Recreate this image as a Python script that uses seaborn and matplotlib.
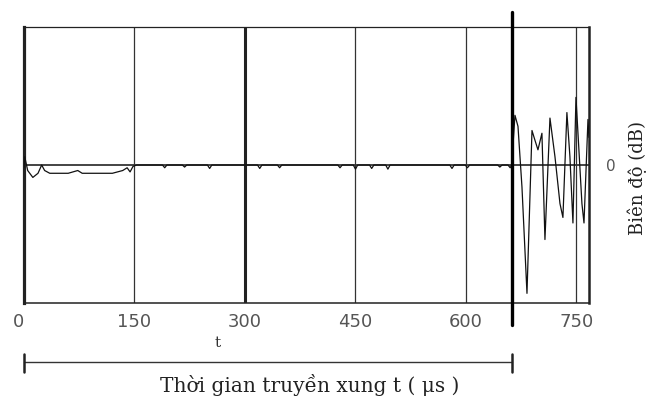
import numpy as np
import pandas as pd
import matplotlib
matplotlib.use("Agg")
import matplotlib.pyplot as plt
import matplotlib.transforms as mtransforms
import seaborn as sns

# ---- data ----
# time (microseconds) and amplitude (relative, 0 = baseline)
t_early = [0, 1, 5, 12, 19, 24, 28, 35, 60, 73, 79, 100, 120, 134, 140, 144, 148, 153]
a_early = [-0.02, 0.06, -0.04, -0.09, -0.06, 0.0, -0.04, -0.06, -0.06, -0.04, -0.06,
           -0.06, -0.06, -0.04, -0.02, -0.05, -0.01, 0.0]

t_mid = [160, 188, 191, 194, 215, 218, 221, 249, 252, 255, 317, 320, 323, 344, 347, 350,
         426, 429, 432, 447, 450, 453, 469, 472, 475, 491, 494, 497, 578, 581, 584,
         599, 602, 605, 643, 646, 649, 657, 660, 662]
a_mid = [0.0, 0.0, -0.02, 0.0, 0.0, -0.015, 0.0, 0.0, -0.025, 0.0, 0.0, -0.025, 0.0, 0.0, -0.02, 0.0,
         0.0, -0.02, 0.0, 0.0, -0.03, 0.0, 0.0, -0.025, 0.0, 0.0, -0.03, 0.0, 0.0, -0.025, 0.0,
         0.0, -0.02, 0.0, 0.0, -0.015, 0.0, 0.0, -0.02, 0.0]

t_burst = [666.5, 670.6, 676, 682.8, 689.6, 693.6, 697.7, 703.1, 707.2, 714, 720.8,
           727.6, 731.6, 737, 741.1, 745.2, 749.3, 753.4, 757.4, 760.2, 765.6, 767]
a_burst = [0.36, 0.28, -0.16, -0.93, 0.25, 0.18, 0.11, 0.23, -0.54, 0.34, 0.06,
           -0.28, -0.38, 0.38, 0.06, -0.42, 0.49, 0.10, -0.28, -0.42, 0.33, 0.20]

x_ticks = [0, 150, 300, 450, 600, 750]
x_tick_labels = ["0", "150", "300", "450", "600", "750"]
thin_grid = [150, 450, 600, 750]
thick_grid = [300]
arrival_t = 662
xlim = (0, 767)

ylabel = "Biên độ (dB)"
xlabel = "Thời gian truyền xung t ( μs )"
span_label = "t"

df = pd.DataFrame({
    "t": t_early + t_mid + t_burst,
    "amp": a_early + a_mid + a_burst,
})

# ---- plotting ----
sns.set_theme(style="white")
plt.rcParams["font.family"] = ["DejaVu Sans"]

fig = plt.figure(figsize=(6.49, 4.01), dpi=100)
ax = fig.add_axes([24 / 649, 1 - 303 / 401, (589 - 24) / 649, (303 - 27) / 401])

ax.axhline(0, color="#111111", lw=1.1, zorder=1)
for g in thin_grid:
    ax.axvline(g, color="#333333", lw=0.9, zorder=1)
for g in thick_grid:
    ax.axvline(g, color="#222222", lw=2.2, zorder=1)

sns.lineplot(data=df, x="t", y="amp", sort=False, estimator=None,
             color="#111111", lw=0.9, ax=ax, zorder=3)

ax.axvline(arrival_t, ymin=-0.08, ymax=1.054, color="black", lw=2.4,
           clip_on=False, zorder=4)

ax.set_xlim(*xlim)
ax.set_ylim(-1, 1)
ax.set_xticks(x_ticks)
ax.set_xticklabels(x_tick_labels)
ax.tick_params(axis="x", length=0, pad=7, labelsize=13, labelcolor="#555555")
for lbl in ax.get_xticklabels()[:1]:
    lbl.set_horizontalalignment("right")

ax.yaxis.tick_right()
ax.set_yticks([0])
ax.set_yticklabels(["0"])
ax.tick_params(axis="y", length=0, pad=12, labelsize=11, labelcolor="#555555")
ax.set_xlabel("")
ax.set_ylabel("")

for side, lw in {"left": 2.3, "top": 0.9, "bottom": 1.1, "right": 1.8}.items():
    ax.spines[side].set_visible(True)
    ax.spines[side].set_linewidth(lw)
    ax.spines[side].set_color("#222222")

# bracket under the axis spanning 0 .. arrival
trans = mtransforms.blended_transform_factory(ax.transData, ax.transAxes)
ax.plot([0, arrival_t], [-0.214, -0.214], transform=trans, color="#333333",
        lw=1.0, clip_on=False)
for xx in (0, arrival_t):
    ax.plot([xx, xx], [-0.185, -0.25], transform=trans, color="#222222",
            lw=1.8, clip_on=False)
ax.text(263, -0.145, span_label, transform=trans, ha="center", va="center",
        fontsize=11, color="#333333", family="DejaVu Serif")

fig.text(310 / 649, 1 - 385 / 401, xlabel, ha="center", va="center",
         fontsize=14.5, color="#222222", family="DejaVu Serif")
fig.text(637 / 649, 1 - 178 / 401, ylabel, ha="center", va="center",
         rotation=90, fontsize=13, color="#222222", family="DejaVu Serif")

fig.savefig("out.png", dpi=100)
